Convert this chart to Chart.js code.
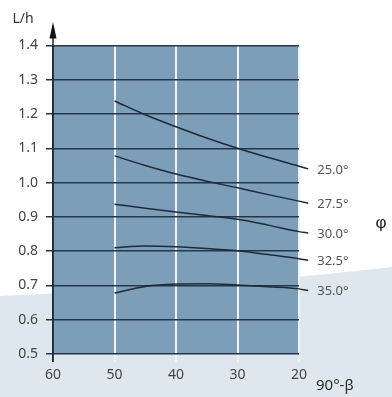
<!DOCTYPE html>
<html><head><meta charset="utf-8">
<script src="https://cdn.jsdelivr.net/npm/chart.js@4.4.1/dist/chart.umd.min.js"></script>
<style>html,body{margin:0;padding:0;background:#fff;}#wrap{width:392px;height:397px;}</style>
</head><body><div id="wrap"><canvas id="c" width="392" height="397"></canvas></div>
<script>
// x = 90°-β (deg); last point of each series is the leader end towards its label
const xValues = [50, 45, 40, 35, 30, 25, 20, 18.5];
const seriesLabels = ['25.0°', '27.5°', '30.0°', '32.5°', '35.0°'];
const s250 = [1.238, 1.198, 1.163, 1.130, 1.100, 1.073, 1.048, 1.040];
const s275 = [1.078, 1.050, 1.025, 1.004, 0.985, 0.965, 0.946, 0.940];
const s300 = [0.937, 0.925, 0.914, 0.904, 0.893, 0.876, 0.857, 0.853];
const s325 = [0.810, 0.815, 0.813, 0.808, 0.801, 0.790, 0.778, 0.773];
const s350 = [0.678, 0.697, 0.704, 0.705, 0.701, 0.696, 0.690, 0.685];
const yTicks = [0.5, 0.6, 0.7, 0.8, 0.9, 1.0, 1.1, 1.2, 1.3, 1.4];
const xTicks = [60, 50, 40, 30, 20];
const yTitle = 'L/h';
const xTitle = '90°-β';
const legendTitle = 'φ';

const allSeries = [s250, s275, s300, s325, s350];
const LINE = '#1d2a3a';
const datasets = allSeries.map((s, i) => ({
  label: seriesLabels[i],
  data: s.map((v, j) => ({x: xValues[j], y: v})),
  borderColor: LINE, borderWidth: 1.5, pointRadius: 0,
  cubicInterpolationMode: 'monotone', fill: false, clip: false
}));

const deco = {
  id: 'deco',
  beforeDraw(chart) {
    const {ctx, chartArea: a, width, height} = chart;
    ctx.save();
    ctx.fillStyle = '#ffffff';
    ctx.fillRect(0, 0, width, height);
    ctx.fillStyle = '#dfe7ee';
    ctx.beginPath();
    ctx.moveTo(0, 296);
    ctx.quadraticCurveTo(250, 284, 392, 267);
    ctx.lineTo(392, 397); ctx.lineTo(0, 397); ctx.closePath(); ctx.fill();
    ctx.fillStyle = '#7d9eb8';
    ctx.fillRect(a.left, a.top, a.right - a.left, a.bottom - a.top);
    ctx.restore();
  },
  afterDatasetsDraw(chart) {
    const {ctx, chartArea: a, scales} = chart;
    ctx.save();
    // y axis line with arrow
    ctx.strokeStyle = '#1d2a3a'; ctx.lineWidth = 1.5;
    ctx.beginPath(); ctx.moveTo(a.left, 36); ctx.lineTo(a.left, a.bottom + 8); ctx.stroke();
    ctx.fillStyle = '#111';
    ctx.beginPath(); ctx.moveTo(a.left, 22); ctx.lineTo(a.left - 3.5, 38.5); ctx.lineTo(a.left + 3.5, 38.5); ctx.closePath(); ctx.fill();
    // series labels
    ctx.font = '13px "Noto Sans"'; ctx.fillStyle = '#555'; ctx.textBaseline = 'middle'; ctx.textAlign = 'left';
    allSeries.forEach((s, i) => {
      const n = s.length - 1;
      const px = scales.x.getPixelForValue(xValues[n]);
      const py = scales.y.getPixelForValue(s[n]);
      ctx.fillText(seriesLabels[i], px + 9, py + 1);
    });
    ctx.font = '17px "Liberation Sans"'; ctx.fillStyle = '#222'; ctx.textAlign = 'center';
    ctx.fillText(legendTitle, 381, 223);
    ctx.font = '14px "Noto Sans"'; ctx.fillStyle = '#333';
    ctx.fillText(yTitle, 23, 19);
    ctx.font = '15px "Noto Sans"'; ctx.fillStyle = '#2a2a2a'; ctx.textAlign = 'left';
    ctx.fillText(xTitle, 316, 386);
    ctx.restore();
  }
};

new Chart(document.getElementById('c'), {
  type: 'line',
  data: {datasets},
  options: {
    responsive: false, animation: false, devicePixelRatio: 1,
    layout: {padding: {top: 45.5, right: 93, left: 0, bottom: 0}},
    plugins: {legend: {display: false}, tooltip: {enabled: false}},
    scales: {
      x: {
        type: 'linear', reverse: true, min: 20, max: 60,
        afterFit(s) { s.height = 43; },
        afterBuildTicks(s) { s.ticks = xTicks.map(v => ({value: v})); },
        border: {display: false},
        grid: {
          color: c => (c.tick && c.tick.value === 60) ? '#1d2a3a' : '#eef3f8',
          lineWidth: c => (c.tick && c.tick.value === 60) ? 1.5 : 2,
          tickLength: 8, drawTicks: true
        },
        ticks: {font: {family: 'Noto Sans', size: 14}, color: '#444', padding: 5, maxRotation: 0}
      },
      y: {
        type: 'linear', min: 0.5, max: 1.4,
        afterFit(s) { s.width = 53; },
        afterBuildTicks(s) { s.ticks = yTicks.map(v => ({value: v})); },
        border: {display: false},
        grid: {color: '#26364a', lineWidth: 1.5, tickLength: 7, drawTicks: true},
        ticks: {font: {family: 'Noto Sans', size: 14}, color: '#444', padding: 8,
          callback: v => Number(v).toFixed(1)}
      }
    }
  },
  plugins: [deco]
});
</script></body></html>
